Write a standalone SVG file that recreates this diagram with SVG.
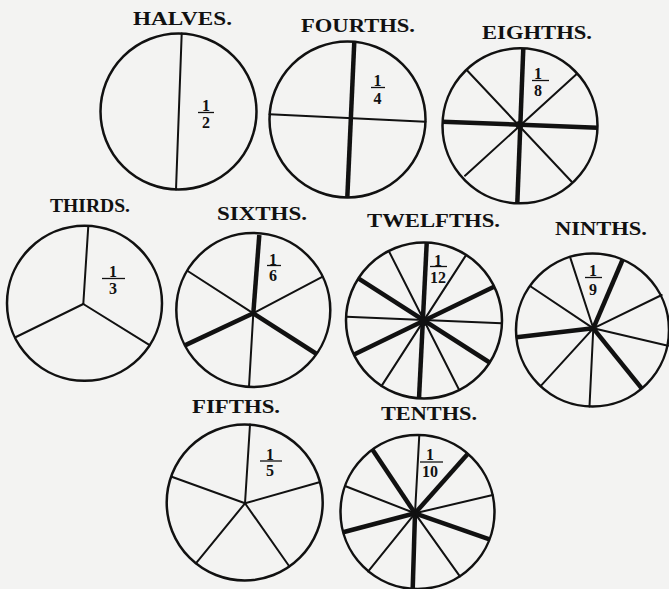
<svg xmlns="http://www.w3.org/2000/svg" width="669" height="589" viewBox="0 0 669 589">
<style>
.bg{fill:#f3f3f2}
.c{fill:none;stroke:#111;stroke-width:2.5}
.t{stroke:#111;stroke-width:2;stroke-linecap:round}
.k{stroke:#111;stroke-width:4.5;stroke-linecap:butt}
.b{stroke:#111;stroke-width:1.3}
.lbl{font-family:"Liberation Serif","DejaVu Serif",serif;font-weight:bold;font-size:19px;fill:#111}
.fr{font-family:"Liberation Serif","DejaVu Serif",serif;font-weight:bold;font-size:16px;fill:#111;text-anchor:middle}
.hub{fill:#111}
</style>
<rect class="bg" x="0" y="0" width="669" height="589"/>

<g id="halves">
<text class="lbl" x="133" y="25" textLength="99" lengthAdjust="spacingAndGlyphs">HALVES.</text>
<circle class="c" cx="178.5" cy="111.5" r="78"/>
<line class="t" x1="181.7" y1="33.5" x2="176" y2="189.5"/>
<text class="fr"><tspan x="206" y="111">1</tspan><tspan x="206" y="128">2</tspan></text>
<line class="b" x1="198" y1="112.5" x2="214" y2="112.5"/>
</g>

<g id="fourths">
<text class="lbl" x="301" y="31.5" textLength="114" lengthAdjust="spacingAndGlyphs">FOURTHS.</text>
<circle class="c" cx="347.5" cy="119.5" r="78"/>
<line class="t" x1="269.5" y1="114.3" x2="425.5" y2="121.7"/>
<line class="k" x1="354.3" y1="41.5" x2="347.3" y2="197.5"/>
<text class="fr"><tspan x="377.5" y="86">1</tspan><tspan x="377.5" y="103.5">4</tspan></text>
<line class="b" x1="371" y1="87.5" x2="385" y2="87.5"/>
</g>

<g id="eighths">
<text class="lbl" x="482" y="39.3" textLength="110" lengthAdjust="spacingAndGlyphs">EIGHTHS.</text>
<circle class="c" cx="520" cy="125.8" r="77.5"/>
<line class="t" x1="466.7" y1="70" x2="571.7" y2="181.7"/>
<line class="t" x1="576.7" y1="74" x2="465" y2="175.7"/>
<line class="k" x1="523.3" y1="48.3" x2="517.3" y2="203.3"/>
<line class="k" x1="442.5" y1="121.7" x2="597.5" y2="127.7"/>
<circle class="hub" cx="519.5" cy="125" r="4"/>
<text class="fr"><tspan x="538" y="79">1</tspan><tspan x="538" y="95.5">8</tspan></text>
<line class="b" x1="532" y1="80.5" x2="549" y2="80.5"/>
</g>

<g id="thirds">
<text class="lbl" x="50" y="211.7" textLength="80" lengthAdjust="spacingAndGlyphs">THIRDS.</text>
<circle class="c" cx="84.5" cy="303.3" r="77.5"/>
<line class="t" x1="83.3" y1="304" x2="88.3" y2="226"/>
<line class="t" x1="83.3" y1="304" x2="15" y2="337.5"/>
<line class="t" x1="83.3" y1="304" x2="149.6" y2="345.2"/>
<text class="fr"><tspan x="113" y="277">1</tspan><tspan x="113" y="293.5">3</tspan></text>
<line class="b" x1="102" y1="278.5" x2="125" y2="278.5"/>
</g>

<g id="sixths">
<text class="lbl" x="217" y="220" textLength="90" lengthAdjust="spacingAndGlyphs">SIXTHS.</text>
<circle class="c" cx="253.3" cy="310" r="77"/>
<line class="t" x1="253.3" y1="313.3" x2="249" y2="386.7"/>
<line class="t" x1="253.3" y1="313.3" x2="187.7" y2="271"/>
<line class="t" x1="253.3" y1="313.3" x2="322.7" y2="276.7"/>
<line class="k" x1="253.3" y1="313.3" x2="259.3" y2="235"/>
<line class="k" x1="253.3" y1="313.3" x2="316.7" y2="354"/>
<line class="k" x1="253.3" y1="313.3" x2="184.9" y2="345.4"/>
<text class="fr"><tspan x="273" y="264.5">1</tspan><tspan x="273" y="281">6</tspan></text>
<line class="b" x1="267" y1="265.5" x2="281" y2="265.5"/>
</g>

<g id="twelfths">
<text class="lbl" x="367" y="226.7" textLength="133" lengthAdjust="spacingAndGlyphs">TWELFTHS.</text>
<circle class="c" cx="424" cy="320.5" r="78"/>
<line class="t" x1="388.8" y1="251" x2="459.2" y2="390"/>
<line class="t" x1="466.2" y1="254.9" x2="381.6" y2="385.9"/>
<line class="t" x1="346.5" y1="316.7" x2="501.5" y2="323.3"/>
<line class="k" x1="426.7" y1="243" x2="419" y2="398.5"/>
<line class="k" x1="358.3" y1="278.3" x2="489.6" y2="362.5"/>
<line class="k" x1="494" y1="286.7" x2="354.1" y2="354.6"/>
<circle class="hub" cx="423.3" cy="321.7" r="4.5"/>
<text class="fr"><tspan x="438" y="265.5">1</tspan><tspan x="438" y="282.5">12</tspan></text>
<line class="b" x1="430" y1="266.5" x2="447" y2="266.5"/>
</g>

<g id="ninths">
<text class="lbl" x="555" y="235" textLength="92" lengthAdjust="spacingAndGlyphs">NINTHS.</text>
<circle class="c" cx="592.5" cy="330" r="76.5"/>
<line class="t" x1="593.3" y1="328.3" x2="570.1" y2="257.1"/>
<line class="t" x1="593.3" y1="328.3" x2="530" y2="286"/>
<line class="t" x1="593.3" y1="328.3" x2="540.6" y2="386.2"/>
<line class="t" x1="593.3" y1="328.3" x2="589.5" y2="406.5"/>
<line class="t" x1="593.3" y1="328.3" x2="668" y2="345.7"/>
<line class="t" x1="593.3" y1="328.3" x2="661.7" y2="295"/>
<line class="k" x1="593.3" y1="328.3" x2="622.5" y2="260"/>
<line class="k" x1="593.3" y1="328.3" x2="516.5" y2="337.3"/>
<line class="k" x1="593.3" y1="328.3" x2="641.7" y2="388.3"/>
<text class="fr"><tspan x="593" y="276">1</tspan><tspan x="593" y="294.5">9</tspan></text>
<line class="b" x1="585" y1="277.5" x2="602" y2="277.5"/>
</g>

<g id="fifths">
<text class="lbl" x="192" y="413.3" textLength="88" lengthAdjust="spacingAndGlyphs">FIFTHS.</text>
<circle class="c" cx="244.7" cy="502.5" r="78"/>
<line class="t" x1="245" y1="503.3" x2="250" y2="424.5"/>
<line class="t" x1="245" y1="503.3" x2="171.7" y2="476.7"/>
<line class="t" x1="245" y1="503.3" x2="319.3" y2="482.3"/>
<line class="t" x1="245" y1="503.3" x2="195.9" y2="563.3"/>
<line class="t" x1="245" y1="503.3" x2="289.4" y2="566.5"/>
<text class="fr"><tspan x="270" y="459.5">1</tspan><tspan x="270" y="476">5</tspan></text>
<line class="b" x1="260" y1="461" x2="282" y2="461"/>
</g>

<g id="tenths">
<text class="lbl" x="381" y="420" textLength="96" lengthAdjust="spacingAndGlyphs">TENTHS.</text>
<circle class="c" cx="417.5" cy="512" r="77"/>
<line class="t" x1="415" y1="513.3" x2="419.3" y2="435"/>
<line class="t" x1="415" y1="513.3" x2="459.9" y2="576.4"/>
<line class="t" x1="415" y1="513.3" x2="368.2" y2="571.4"/>
<line class="t" x1="415" y1="513.3" x2="345" y2="486"/>
<line class="t" x1="415" y1="513.3" x2="492.7" y2="495"/>
<line class="k" x1="415" y1="513.3" x2="412.7" y2="589"/>
<line class="k" x1="415" y1="513.3" x2="372.7" y2="450"/>
<line class="k" x1="415" y1="513.3" x2="468.3" y2="453.2"/>
<line class="k" x1="415" y1="513.3" x2="489.5" y2="539.4"/>
<line class="k" x1="415" y1="513.3" x2="343.1" y2="532.2"/>
<text class="fr"><tspan x="430" y="459.5">1</tspan><tspan x="430" y="476.5">10</tspan></text>
<line class="b" x1="420" y1="462" x2="443" y2="462"/>
</g>
</svg>
